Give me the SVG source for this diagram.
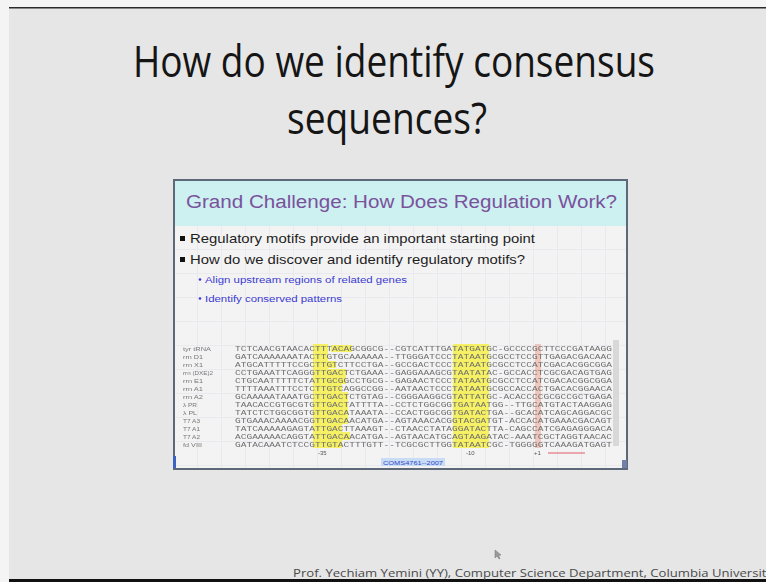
<svg xmlns="http://www.w3.org/2000/svg" width="766" height="582" viewBox="0 0 766 582">
  <defs>
    <pattern id="grid" x="174" y="226" width="24" height="24" patternUnits="userSpaceOnUse">
      <rect width="24" height="24" fill="#f3f3f4"/>
      <path d="M24 0V24M0 24H24" fill="none" stroke="#e2e2e8" stroke-width="1"/>
    </pattern>
    <filter id="soft" x="-5%" y="-5%" width="110%" height="110%">
      <feGaussianBlur stdDeviation="0.45"/>
    </filter>
  </defs>
  <style>
    .title { font-family: "Open Sans", "Noto Sans", sans-serif; font-size: 44px; fill: #151515; }
    .head { font-family: "Liberation Sans", Arial, sans-serif; font-size: 18px; fill: #7a529c; }
    .b1 { font-family: "Liberation Sans", Arial, sans-serif; font-size: 13px; fill: #1e1e1e; }
    .b2 { font-family: "Liberation Sans", Arial, sans-serif; font-size: 8.5px; fill: #3a3ad0; }
    .lab { font-family: "Liberation Sans", Arial, sans-serif; font-size: 5.5px; fill: #777; }
    .seq { font-family: "Liberation Mono", monospace; font-size: 6.5px; fill: #6e6e6e; }
    .pos { font-family: "Liberation Sans", Arial, sans-serif; font-size: 6px; fill: #555; }
    .foot { font-family: "Open Sans", "Noto Sans", sans-serif; font-size: 11.5px; fill: #4a4a4a; }
    .hl { fill: #f4ee4a; opacity: 0.85; }
  </style>

  <!-- frame and slide background -->
  <rect x="0" y="0" width="766" height="582" fill="#f4f4f4"/>
  <rect x="9" y="8" width="757" height="571" fill="#e6e6e6"/>
  <rect x="9" y="7" width="757" height="1.5" fill="#2a2a2a"/>
  <rect x="9" y="579" width="757" height="3" fill="#111"/>

  <!-- slide heading -->
  <g id="title">
    <text class="title" x="394" y="77" text-anchor="middle" textLength="522" lengthAdjust="spacingAndGlyphs">How do we identify consensus</text>
    <text class="title" x="387" y="134" text-anchor="middle" textLength="200" lengthAdjust="spacingAndGlyphs">sequences?</text>
  </g>

  <!-- embedded slide -->
  <g id="inner-slide">
    <rect x="174" y="180" width="453" height="289" fill="url(#grid)"/>
    <rect x="174" y="180" width="453" height="46" fill="#cdf0f0"/>
    <rect x="174" y="180" width="453" height="289" fill="none" stroke="#5d6878" stroke-width="2"/>
    <rect x="173" y="456" width="3" height="12" fill="#3c63c4"/>
    <rect x="622" y="460" width="5" height="8" fill="#7080a8"/>
    <text class="head" x="186" y="208" textLength="431" lengthAdjust="spacingAndGlyphs">Grand Challenge: How Does Regulation Work?</text>

    <g id="bullets">
      <rect x="180" y="236" width="5" height="5" fill="#111"/>
      <text class="b1" x="190" y="243" textLength="345" lengthAdjust="spacingAndGlyphs">Regulatory motifs provide an important starting point</text>
      <rect x="180" y="257" width="5" height="5" fill="#111"/>
      <text class="b1" x="190" y="264" textLength="335" lengthAdjust="spacingAndGlyphs">How do we discover and identify regulatory motifs?</text>
      <circle cx="200" cy="279.5" r="1.3" fill="#3a3ad0"/>
      <text class="b2" x="205" y="282.5" textLength="202" lengthAdjust="spacingAndGlyphs">Align upstream regions of related genes</text>
      <circle cx="200" cy="298.5" r="1.3" fill="#3a3ad0"/>
      <text class="b2" x="205" y="301.5" textLength="137" lengthAdjust="spacingAndGlyphs">Identify conserved patterns</text>
    </g>

    <!-- promoter alignment -->
    <g id="alignment" filter="url(#soft)">
      <rect x="613" y="340" width="6" height="106" fill="#d8d8d8"/>
      <rect class="hl" x="313" y="344" width="15" height="104"/>
      <rect class="hl" x="331" y="345" width="21" height="7"/>
      <rect class="hl" x="328" y="361" width="8" height="7"/>
      <rect class="hl" x="328" y="369" width="18" height="15"/>
      <rect class="hl" x="328" y="384" width="14" height="8"/>
      <rect class="hl" x="328" y="392" width="20" height="32"/>
      <rect class="hl" x="328" y="424" width="14" height="8"/>
      <rect class="hl" x="328" y="432" width="22" height="8"/>
      <rect class="hl" x="328" y="440" width="14" height="8"/>
      <rect class="hl" x="453" y="344" width="36" height="104"/>
      <rect x="535" y="344" width="6" height="104" fill="#f0aa98" opacity="0.6"/>

      <text class="lab" x="183" y="351" textLength="28" lengthAdjust="spacingAndGlyphs">tyr tRNA</text>
      <text class="lab" x="183" y="359" textLength="20" lengthAdjust="spacingAndGlyphs">rrn D1</text>
      <text class="lab" x="183" y="367" textLength="20" lengthAdjust="spacingAndGlyphs">rrn X1</text>
      <text class="lab" x="183" y="375" textLength="30" lengthAdjust="spacingAndGlyphs">rrn (DXE)2</text>
      <text class="lab" x="183" y="383" textLength="20" lengthAdjust="spacingAndGlyphs">rrn E1</text>
      <text class="lab" x="183" y="391" textLength="20" lengthAdjust="spacingAndGlyphs">rrn A1</text>
      <text class="lab" x="183" y="399" textLength="20" lengthAdjust="spacingAndGlyphs">rrn A2</text>
      <text class="lab" x="183" y="407" textLength="14" lengthAdjust="spacingAndGlyphs">λ PR</text>
      <text class="lab" x="183" y="415" textLength="14" lengthAdjust="spacingAndGlyphs">λ PL</text>
      <text class="lab" x="183" y="423" textLength="17" lengthAdjust="spacingAndGlyphs">T7 A3</text>
      <text class="lab" x="183" y="431" textLength="17" lengthAdjust="spacingAndGlyphs">T7 A1</text>
      <text class="lab" x="183" y="439" textLength="17" lengthAdjust="spacingAndGlyphs">T7 A2</text>
      <text class="lab" x="183" y="447" textLength="19" lengthAdjust="spacingAndGlyphs">fd VIII</text>

      <text class="seq" x="235" y="351" textLength="377" lengthAdjust="spacingAndGlyphs">TCTCAACGTAACACTTTACAGCGGCG--CGTCATTTGATATGATGC-GCCCCGCTTCCCGATAAGG</text>
      <text class="seq" x="235" y="359" textLength="377" lengthAdjust="spacingAndGlyphs">GATCAAAAAAATACTTGTGCAAAAAA--TTGGGATCCCTATAATGCGCCTCCGTTGAGACGACAAC</text>
      <text class="seq" x="235" y="367" textLength="377" lengthAdjust="spacingAndGlyphs">ATGCATTTTTCCGCTTGTCTTCCTGA--GCCGACTCCCTATAATGCGCCTCCATCGACACGGCGGA</text>
      <text class="seq" x="235" y="375" textLength="377" lengthAdjust="spacingAndGlyphs">CCTGAAATTCAGGGTTGACTCTGAAA--GAGGAAAGCGTAATATAC-GCCACCTCGCGACAGTGAG</text>
      <text class="seq" x="235" y="383" textLength="377" lengthAdjust="spacingAndGlyphs">CTGCAATTTTTCTATTGCGGCCTGCG--GAGAACTCCCTATAATGCGCCTCCATCGACACGGCGGA</text>
      <text class="seq" x="235" y="391" textLength="377" lengthAdjust="spacingAndGlyphs">TTTTAAATTTCCTCTTGTCAGGCCGG--AATAACTCCCTATAATGCGCCACCACTGACACGGAACA</text>
      <text class="seq" x="235" y="399" textLength="377" lengthAdjust="spacingAndGlyphs">GCAAAAATAAATGCTTGACTCTGTAG--CGGGAAGGCGTATTATGC-ACACCCCGCGCCGCTGAGA</text>
      <text class="seq" x="235" y="407" textLength="377" lengthAdjust="spacingAndGlyphs">TAACACCGTGCGTGTTGACTATTTTA--CCTCTGGCGGTGATAATGG--TTGCATGTACTAAGGAG</text>
      <text class="seq" x="235" y="415" textLength="377" lengthAdjust="spacingAndGlyphs">TATCTCTGGCGGTGTTGACATAAATA--CCACTGGCGGTGATACTGA--GCACATCAGCAGGACGC</text>
      <text class="seq" x="235" y="423" textLength="377" lengthAdjust="spacingAndGlyphs">GTGAAACAAAACGGTTGACAACATGA--AGTAAACACGGTACGATGT-ACCACATGAAACGACAGT</text>
      <text class="seq" x="235" y="431" textLength="377" lengthAdjust="spacingAndGlyphs">TATCAAAAAGAGTATTGACTTAAAGT--CTAACCTATAGGATACTTA-CAGCCATCGAGAGGGACA</text>
      <text class="seq" x="235" y="439" textLength="377" lengthAdjust="spacingAndGlyphs">ACGAAAAACAGGTATTGACAACATGA--AGTAACATGCAGTAAGATAC-AAATCGCTAGGTAACAC</text>
      <text class="seq" x="235" y="447" textLength="377" lengthAdjust="spacingAndGlyphs">GATACAAATCTCCGTTGTACTTTGTT--TCGCGCTTGGTATAATCGC-TGGGGGTCAAAGATGAGT</text>

      <text class="pos" x="318" y="455">-35</text>
      <text class="pos" x="466" y="455">-10</text>
      <text class="pos" x="534" y="455" fill="#888">+1</text>
      <path d="M548 453H585" stroke="#e05a6a" stroke-width="1"/>
    </g>

    <rect x="381" y="458" width="64" height="8" fill="#c9dcf6"/>
    <text x="383" y="464.5" font-family="Liberation Sans, Arial, sans-serif" font-size="6" fill="#3348c8" textLength="60" lengthAdjust="spacingAndGlyphs">COMS4761--2007</text>
  </g>

  <!-- pointer -->
  <g id="cursor">
    <path d="M495 550L495 558L497 556L499 559L500 558.5L498.5 555.5L501 555Z" fill="#9a9a9a" stroke="#777" stroke-width="0.5"/>
  </g>

  <!-- footer -->
  <g id="footer">
    <text class="foot" x="293" y="577" textLength="480" lengthAdjust="spacingAndGlyphs">Prof. Yechiam Yemini (YY), Computer Science Department, Columbia University</text>
  </g>
</svg>
